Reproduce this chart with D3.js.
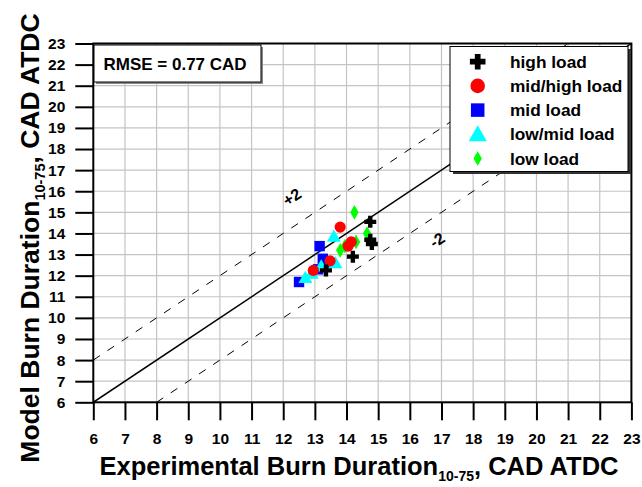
<!DOCTYPE html>
<html>
<head>
<meta charset="utf-8">
<script src="https://cdn.jsdelivr.net/npm/d3@7"></script>
<style>
  html, body { margin: 0; padding: 0; background: #fff; }
  svg { display: block; font-family: "Liberation Sans", Arial, sans-serif; font-weight: bold; }
</style>
</head>
<body>
<svg id="chart" width="642" height="487"></svg>
<script>
// ---- data ----
const xTicks = [6,7,8,9,10,11,12,13,14,15,16,17,18,19,20,21,22,23];
const yTicks = [6,7,8,9,10,11,12,13,14,15,16,17,18,19,20,21,22,23];
const seriesNames = ["high load", "mid/high load", "mid load", "low/mid load", "low load"];
const highLoad    = [[14.75,14.55],[14.75,13.7],[14.8,13.5],[14.2,12.9],[13.35,12.25]];
const midHighLoad = [[13.8,14.3],[14.15,13.6],[14.05,13.4],[13.48,12.7],[12.95,12.25]];
const midLoad     = [[13.15,13.4],[13.25,12.8],[13.1,12.3],[12.5,11.7],[13.3,12.6]];
const lowMidLoad  = [[13.6,13.85],[13.65,12.6],[12.9,12.1],[13.2,12.45],[12.7,11.9]];
const lowLoad     = [[14.25,15.0],[14.65,14.0],[14.3,13.6],[13.8,13.2],[13.95,13.4]];
const rmseText = "RMSE = 0.77 CAD";
const offsetLines = [0, 2, -2];
const offsetLabels = [["+2", 12.28, 15.73], ["-2", 16.86, 13.69]];

// ---- layout ----
const svg = d3.select("#chart");
const x = d3.scaleLinear().domain([6,23]).range([93.3,631.4]);
const y = d3.scaleLinear().domain([6,23]).range([402.3,43.5]);
const X0 = x.range()[0], X1 = x.range()[1], Y0 = y.range()[0], Y1 = y.range()[1];

// gridlines
const grid = svg.append("g").attr("stroke", "#c4c4c4").attr("stroke-width", 1.2);
xTicks.slice(1,-1).forEach(t => grid.append("line").attr("x1", x(t)).attr("x2", x(t)).attr("y1", Y1).attr("y2", Y0));
yTicks.slice(1,-1).forEach(t => grid.append("line").attr("y1", y(t)).attr("y2", y(t)).attr("x1", X0).attr("x2", X1));

// clip
svg.append("clipPath").attr("id", "clip").append("rect")
  .attr("x", X0).attr("y", Y1).attr("width", X1 - X0).attr("height", Y0 - Y1);

// 1:1 and +/-2 lines
const lines = svg.append("g").attr("clip-path", "url(#clip)");
offsetLines.forEach(o => {
  const xs = Math.max(6, 6 - o), xe = Math.min(23, 23 - o);
  lines.append("line")
    .attr("x1", x(xs)).attr("y1", y(xs + o))
    .attr("x2", x(xe)).attr("y2", y(xe + o))
    .attr("stroke", "#000")
    .attr("stroke-width", o === 0 ? 1.5 : 1)
    .attr("stroke-dasharray", o === 0 ? null : "8,9");
});

// line labels
const ang = -Math.atan((Y0 - Y1) / (X1 - X0)) * 180 / Math.PI;
offsetLabels.forEach(([t, dx, dy]) => {
  svg.append("text").attr("transform", `translate(${x(dx)},${y(dy)}) rotate(${ang})`)
    .attr("text-anchor", "middle").attr("dy", "0.35em")
    .attr("font-size", 16).text(t);
});

// markers
const sym = {
  "high load":     { color: "#000",    shape: "cross" },
  "mid/high load": { color: "#ff0000", shape: "circle" },
  "mid load":      { color: "#0000ff", shape: "square" },
  "low/mid load":  { color: "#00ffff", shape: "triangle" },
  "low load":      { color: "#00ff00", shape: "diamond" }
};
function drawMarker(g, shape, color, cx, cy, s) {
  if (shape === "cross") {
    const a = 6 * s, w = 2.2 * s;
    g.append("path").attr("d",
      `M${cx-w},${cy-a}H${cx+w}V${cy-w}H${cx+a}V${cy+w}H${cx+w}V${cy+a}H${cx-w}V${cy+w}H${cx-a}V${cy-w}H${cx-w}Z`)
      .attr("fill", color);
  } else if (shape === "circle") {
    g.append("circle").attr("cx", cx).attr("cy", cy).attr("r", 5.6 * s).attr("fill", color);
  } else if (shape === "square") {
    const h = 5.2 * s;
    g.append("rect").attr("x", cx - h).attr("y", cy - h).attr("width", 2*h).attr("height", 2*h).attr("fill", color);
  } else if (shape === "triangle") {
    const h = 7 * s;
    g.append("path").attr("d", `M${cx},${cy-h}L${cx+h},${cy+h*0.75}L${cx-h},${cy+h*0.75}Z`).attr("fill", color);
  } else if (shape === "diamond") {
    g.append("path").attr("d", `M${cx},${cy-7.3}L${cx+4.2},${cy}L${cx},${cy+7.3}L${cx-4.2},${cy}Z`).attr("fill", color);
  }
}
const seriesData = {
  "high load": highLoad, "mid/high load": midHighLoad, "mid load": midLoad,
  "low/mid load": lowMidLoad, "low load": lowLoad
};
const drawOrder = ["mid load", "low/mid load", "low load", "mid/high load", "high load"];
const pts = svg.append("g");
drawOrder.forEach(name => {
  seriesData[name].forEach(d => drawMarker(pts, sym[name].shape, sym[name].color, x(d[0]), y(d[1]), 1));
});

// frame
svg.append("rect").attr("x", X0).attr("y", Y1).attr("width", X1 - X0).attr("height", Y0 - Y1)
  .attr("fill", "none").attr("stroke", "#000").attr("stroke-width", 2);

// axes
const xAxis = svg.append("g").attr("transform", `translate(0,${Y0})`)
  .call(d3.axisBottom(x).tickValues(xTicks).tickSize(18).tickPadding(13).tickFormat(d3.format("d")));
const yAxis = svg.append("g").attr("transform", `translate(${X0},0)`)
  .call(d3.axisLeft(y).tickValues(yTicks).tickSize(18).tickPadding(10).tickFormat(d3.format("d")));
[xAxis, yAxis].forEach(a => {
  a.select(".domain").remove();
  a.selectAll(".tick line").attr("stroke", "#000").attr("stroke-width", 2);
  a.selectAll(".tick text").attr("fill", "#000").attr("font-size", 15.5)
    .attr("font-family", "'Liberation Sans', Arial, sans-serif").attr("font-weight", "bold");
});

// RMSE box
svg.append("rect").attr("x", 96).attr("y", 47).attr("width", 167).attr("height", 37).attr("fill", "#888");
svg.append("rect").attr("x", 94).attr("y", 45).attr("width", 167).attr("height", 37)
  .attr("fill", "#fff").attr("stroke", "#000").attr("stroke-width", 1);
svg.append("text").attr("x", 103.5).attr("y", 70).attr("font-size", 17).text(rmseText);

// legend
const lg = svg.append("g");
lg.append("rect").attr("x", 453).attr("y", 49).attr("width", 178).attr("height", 125).attr("fill", "#333");
lg.append("rect").attr("x", 450).attr("y", 46.5).attr("width", 178).attr("height", 125)
  .attr("fill", "#fff").attr("stroke", "#000").attr("stroke-width", 1);
seriesNames.forEach((name, i) => {
  const cy = 61.7 + i * 24.2;
  if (sym[name].shape === "diamond") drawMarker(lg, "diamond", sym[name].color, 477.7, cy, 1);
  else drawMarker(lg, sym[name].shape, sym[name].color, 477.7, cy, 1.3);
  lg.append("text").attr("x", 510).attr("y", cy).attr("dy", "0.35em").attr("font-size", 17.3).text(name);
});

// axis titles
const xt = svg.append("text").attr("x", 359).attr("y", 475)
  .attr("text-anchor", "middle").attr("font-size", 25.5);
xt.append("tspan").text("Experimental Burn Duration");
xt.append("tspan").attr("font-size", 14).attr("dy", 6).text("10-75");
xt.append("tspan").attr("dy", -6).text(", CAD ATDC");

const yt = svg.append("text").attr("transform", `translate(39,238) rotate(-90)`)
  .attr("text-anchor", "middle").attr("font-size", 26.5);
yt.append("tspan").text("Model Burn Duration");
yt.append("tspan").attr("font-size", 14.5).attr("dy", 6).text("10-75");
yt.append("tspan").attr("dy", -6).text(", CAD ATDC");
</script>
</body>
</html>
